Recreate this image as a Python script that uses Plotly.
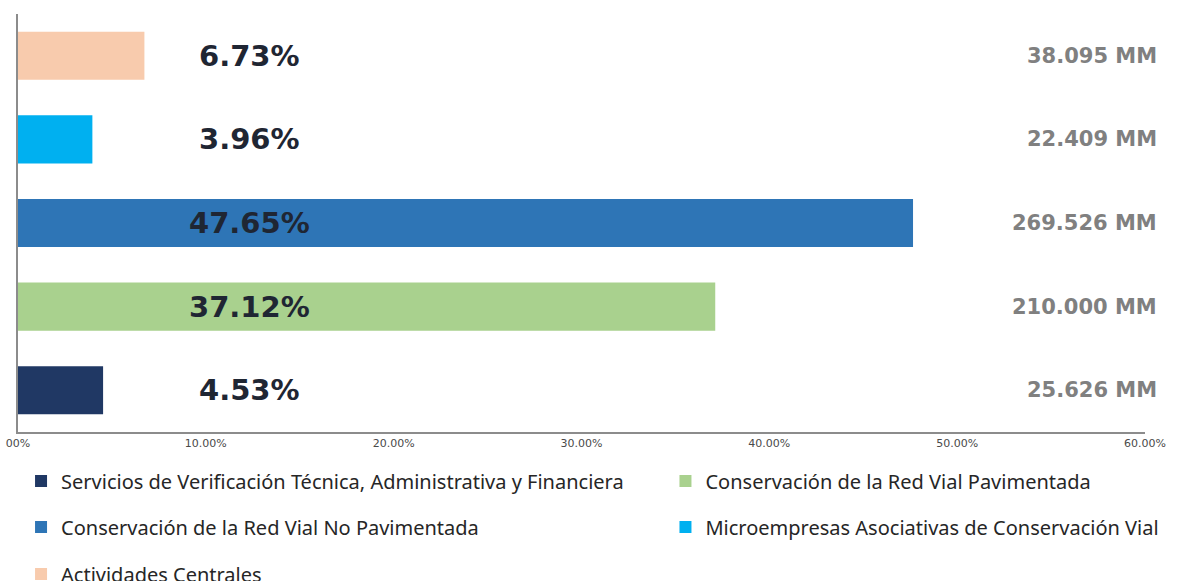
import plotly.graph_objects as go

# Data (bottom to top)
categories = [
    "Servicios de Verificación Técnica, Administrativa y Financiera",
    "Conservación de la Red Vial Pavimentada",
    "Conservación de la Red Vial No Pavimentada",
    "Microempresas Asociativas de Conservación Vial",
    "Actividades Centrales",
]
percentages = [4.53, 37.12, 47.65, 3.96, 6.73]
amounts_mm = ["25.626 MM", "210.000 MM", "269.526 MM", "22.409 MM", "38.095 MM"]
colors = ["#203864", "#A9D18E", "#2E75B6", "#00B0F0", "#F8CBAD"]
tick_vals = [0, 10, 20, 30, 40, 50, 60]
tick_text = ["00%", "10.00%", "20.00%", "30.00%", "40.00%", "50.00%", "60.00%"]

# legend slot for each trace: (legend id, x paper, y paper)
legend_ids = ["legend", "legend2", "legend3", "legend4", "legend5"]
legend_pos = [(0.0027, -0.1172), (0.5745, -0.1172),
              (0.0027, -0.2273), (0.5745, -0.2273),
              (0.0027, -0.3397)]

LABEL_X = 12.35  # x position (axis units) for the percentage labels

fig = go.Figure()
for cat, val, col, lg in zip(categories, percentages, colors, legend_ids):
    fig.add_trace(go.Bar(
        y=[cat], x=[val], orientation="h", name=cat,
        marker=dict(color=col, line=dict(width=0)),
        legend=lg, hoverinfo="x+y",
    ))

annotations = []
for cat, val in zip(categories, percentages):
    annotations.append(dict(
        x=LABEL_X, y=cat, xref="x", yref="y", text=f"{val:.2f}%",
        showarrow=False, xanchor="center", yanchor="middle",
        font=dict(family="DejaVu Sans", size=29, color="#1F2633", weight="bold"),
    ))
for cat, amt in zip(categories, amounts_mm):
    annotations.append(dict(
        x=1.0125, y=cat, xref="paper", yref="y", text=amt,
        showarrow=False, xanchor="right", yanchor="middle",
        font=dict(family="DejaVu Sans", size=21, color="#808080", weight="bold"),
    ))

legend_font = dict(family="Noto Sans", size=20, color="#262626")
legends = {}
for lg, (lx, ly) in zip(legend_ids, legend_pos):
    legends[lg] = dict(
        orientation="h", x=lx, y=ly, xanchor="left", yanchor="middle",
        xref="paper", yref="paper",
        font=legend_font, bgcolor="rgba(0,0,0,0)", borderwidth=0,
        itemclick=False, itemdoubleclick=False,
    )

fig.update_layout(
    width=1177, height=581,
    margin=dict(l=18, r=32, t=14, b=149, autoexpand=False),
    paper_bgcolor="white", plot_bgcolor="white",
    barmode="overlay", bargap=0.425,
    xaxis=dict(
        range=[0, 60], tickvals=tick_vals, ticktext=tick_text,
        showgrid=False, zeroline=False, showline=True,
        linecolor="#8C8C8C", linewidth=2, ticks="",
        tickfont=dict(family="DejaVu Sans", size=11, color="#4A4A4A"),
        fixedrange=True, automargin=False,
    ),
    yaxis=dict(
        categoryorder="array", categoryarray=categories,
        showticklabels=False, showgrid=False, zeroline=False,
        showline=True, linecolor="#8C8C8C", linewidth=2, ticks="",
        fixedrange=True, automargin=False,
    ),
    annotations=annotations,
    showlegend=True,
    **legends,
)

fig.write_html(
    "out.html",
    config={"displayModeBar": False},
    post_script="document.body.style.margin='0px';document.body.style.overflow='hidden';",
)
